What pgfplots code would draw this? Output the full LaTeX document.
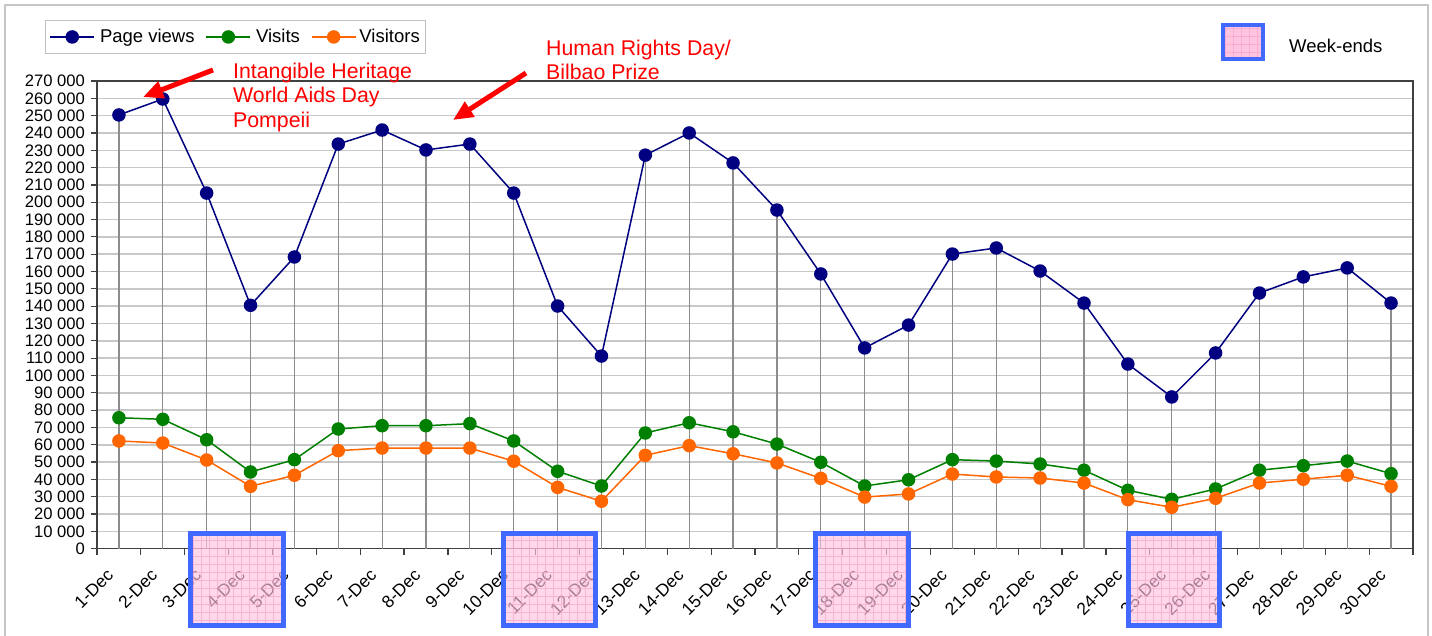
\documentclass[border=0pt]{standalone}
\usepackage{fontspec}
\setmainfont{Liberation Sans}
\usepackage{pgfplots}
\usepackage{pgfplotstable}
\pgfplotsset{compat=1.18}
\usetikzlibrary{patterns,arrows.meta}
\definecolor{pvc}{HTML}{000080}
\definecolor{vic}{HTML}{008000}
\definecolor{voc}{HTML}{FF6600}
\definecolor{wkblue}{HTML}{4169FF}
\definecolor{wkpink}{HTML}{FFC4E0}
\definecolor{wkgrid}{HTML}{F49CC8}
\definecolor{gridc}{HTML}{C8C8C8}
\definecolor{dropc}{HTML}{8C8C8C}

\pgfplotstableread{
d pv vi vo
1 250400 75600 62200
2 259600 74700 61000
3 205300 62900 51200
4 140500 44300 36000
5 168400 51400 42400
6 233600 69100 56600
7 241700 71000 58100
8 230200 71000 58100
9 233600 72200 58100
10 205300 62200 50500
11 140100 44700 35400
12 111200 36200 27400
13 227200 66800 53900
14 240000 72700 59500
15 222700 67500 54800
16 195500 60400 49500
17 158600 49900 40600
18 115900 36200 29800
19 129100 39800 31600
20 170100 51400 43100
21 173600 50600 41400
22 160300 48900 40800
23 141800 45300 37900
24 106600 33700 28300
25 87600 28500 23900
26 113000 34500 29100
27 147600 45300 37900
28 156900 47900 40100
29 162100 50600 42400
30 141800 43300 36000
}\data

\begin{document}
\begin{tikzpicture}
\useasboundingbox (-97bp,-87.3bp) rectangle (1335bp,548.7bp);
\fill[white] (-97bp,-87.3bp) rectangle (1335bp,548.7bp);
\draw[gray!45, line width=2bp] (-92bp,-100bp) -- (-92bp,543.7bp) -- (1331bp,543.7bp) -- (1331bp,-100bp);
\begin{axis}[
  scale only axis,
  width=1316bp, height=467.7bp,
  xmin=0.5, xmax=30.5, ymin=0, ymax=270000,
  ytick distance=10000,
  scaled y ticks=false,
  yticklabel style={font=\fontsize{16.6bp}{18bp}\selectfont, inner sep=1bp, xshift=-5bp,
    /pgf/number format/fixed, /pgf/number format/1000 sep={\ }, /pgf/number format/assume math mode=true},
  ymajorgrids,
  major grid style={gridc, line width=1.5bp},
  xtick={0.5,1.5,...,30.5},
  xticklabels={},
  extra x ticks={1,...,30},
  extra x tick labels={1-Dec,2-Dec,3-Dec,4-Dec,5-Dec,6-Dec,7-Dec,8-Dec,9-Dec,10-Dec,11-Dec,12-Dec,13-Dec,14-Dec,15-Dec,16-Dec,17-Dec,18-Dec,19-Dec,20-Dec,21-Dec,22-Dec,23-Dec,24-Dec,25-Dec,26-Dec,27-Dec,28-Dec,29-Dec,30-Dec},
  extra x tick style={major tick length=0pt, grid=none},
  xticklabel style={xshift=-13bp, yshift=-19bp, rotate=45, anchor=north east, font=\fontsize{17.4bp}{19bp}\selectfont, inner sep=0bp},
  tick align=outside, tick pos=left,
  major tick length=6bp,
  every tick/.style={black!75, line width=1.2bp},
  axis line style={black!75, line width=1.2bp},
  clip=false,
  legend columns=3,
  legend style={at={(-0.0395,1.1304)}, anchor=north west, draw=gray!50, line width=1bp,
    font=\fontsize{18.5bp}{20bp}\selectfont, inner xsep=4bp, inner ysep=7bp,
    /tikz/every even column/.append style={column sep=9bp}},
  legend image code/.code={\draw[#1, mark repeat=2, mark phase=2] plot coordinates {(0bp,0bp) (22bp,0bp) (44bp,0bp)};},
]
\addplot[ycomb, dropc, line width=1.2bp, mark=none, forget plot] table[x=d,y=pv]{\data};
\addplot[pvc, line width=1.5bp, mark=*, mark size=6bp, mark options={solid, fill=pvc, draw=pvc}] table[x=d,y=pv]{\data};
\addlegendentry{\hspace{3bp}Page views}
\addplot[vic, line width=1.5bp, mark=*, mark size=6bp, mark options={solid, fill=vic, draw=vic}] table[x=d,y=vi]{\data};
\addlegendentry{\hspace{3bp}Visits}
\addplot[voc, line width=1.5bp, mark=*, mark size=6bp, mark options={solid, fill=voc, draw=voc}] table[x=d,y=vo]{\data};
\addlegendentry{\hspace{1bp}Visitors}
\end{axis}
\begin{scope}[x=1bp, y=1bp]
  % week-end boxes (px -> (X-97, 548.7-Y))
  \foreach \xa/\xb in {93.5/186.5, 406.5/498.5, 718.5/811.5, 1031.5/1122.5}{
    \fill[wkpink, fill opacity=0.65] (\xa,15.2) rectangle (\xb,-76.8);
    \begin{scope}
      \clip (\xa,15.2) rectangle (\xb,-76.8);
      \draw[wkgrid, line width=0.8bp, opacity=0.6, step=8bp] (\xa-10,-80) grid (\xb+10,20);
    \end{scope}
    \draw[wkblue, line width=5bp] (\xa,15.2) rectangle (\xb,-76.8);
  }
  % week-ends legend
  \fill[wkpink] (1125.5,523.2) rectangle (1165.5,489.2);
  \begin{scope}
    \clip (1125.5,523.2) rectangle (1165.5,489.2);
    \draw[wkgrid, line width=0.8bp, opacity=0.6, step=8bp] (1120,480) grid (1170,530);
  \end{scope}
  \draw[wkblue, line width=4bp] (1125.5,523.2) rectangle (1165.5,489.2);
  \node[anchor=west, inner sep=0, font=\fontsize{18.5bp}{20bp}\selectfont] at (1192,502.7) {Week-ends};
  % annotations
  \node[anchor=north west, inner sep=0, align=left, red, font=\fontsize{21.3bp}{24.5bp}\selectfont] at (136,486) {Intangible Heritage\\World Aids Day\\Pompeii};
  \node[anchor=north west, inner sep=0, align=left, red, font=\fontsize{21.3bp}{24.5bp}\selectfont] at (449,509) {Human Rights Day/\\Bilbao Prize};
  \draw[red, line width=5bp, -{Triangle[length=20bp, width=17bp]}] (116,478.7) -- (46,451.7);
  \draw[red, line width=5bp, -{Triangle[length=20bp, width=17bp]}] (429,475.7) -- (356,428.7);
\end{scope}
\end{tikzpicture}
\end{document}
